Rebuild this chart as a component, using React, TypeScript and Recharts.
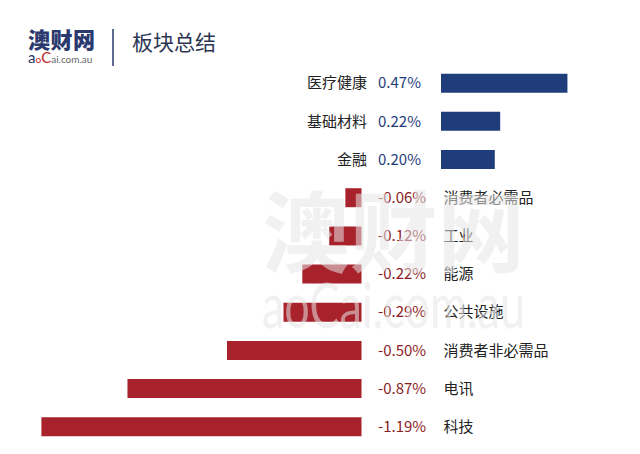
import React from "react";
import { BarChart, Bar, XAxis, YAxis, LabelList } from "recharts";

// 板块涨跌幅（%）
const categories = [
  "医疗健康",
  "基础材料",
  "金融",
  "消费者必需品",
  "工业",
  "能源",
  "公共设施",
  "消费者非必需品",
  "电讯",
  "科技",
];
const changes = [0.47, 0.22, 0.2, -0.06, -0.12, -0.22, -0.29, -0.5, -0.87, -1.19];

const W = 640;
const H = 454;
const PLOT_LEFT = 20;
const PLOT_RIGHT = 620;
const PX_PER_PCT = 269;
// 负值条在中间留白区左侧结束，正值条从右侧开始
const NEG_ZERO = 361.5;
const POS_ZERO = 441;

const NAVY = "#1f3d7b";
const RED = "#a8222b";
const RED_TEXT = "#8c1d25";
const FONT = "'Noto Sans CJK SC', 'Noto Sans', sans-serif";

const negDomain: [number, number] = [
  -(NEG_ZERO - PLOT_LEFT) / PX_PER_PCT,
  (PLOT_RIGHT - NEG_ZERO) / PX_PER_PCT,
];
const posDomain: [number, number] = [
  -(POS_ZERO - PLOT_LEFT) / PX_PER_PCT,
  (PLOT_RIGHT - POS_ZERO) / PX_PER_PCT,
];

const rows = categories.map((name, i) => ({
  name,
  neg: changes[i] < 0 ? changes[i] : null,
  pos: changes[i] >= 0 ? changes[i] : null,
}));

const fmt = (v: number) => `${v.toFixed(2)}%`;
// LabelList 的 index 只计非空条目，所以按数值找回类别名
const nameOf = (v: number) => categories[changes.indexOf(v)];

// 正值：名称 + 数值在条形左侧
function PosLabel(props: any) {
  const { x, y, height, value } = props;
  if (value == null) return null;
  const cy = y + height / 2;
  return (
    <g fontFamily={FONT} fontSize={15}>
      <text x={x - 74} y={cy} dy="0.35em" textAnchor="end" fill="#222">
        {nameOf(value)}
      </text>
      <text x={x - 63} y={cy} dy="0.35em" fill={NAVY}>
        {fmt(value)}
      </text>
    </g>
  );
}

// 负值：数值 + 名称在条形右侧
function NegLabel(props: any) {
  const { x, y, width, height, value } = props;
  if (value == null) return null;
  const right = Math.max(x, x + width);
  const cy = y + height / 2;
  return (
    <g fontFamily={FONT} fontSize={15}>
      <text x={right + 16.5} y={cy} dy="0.35em" fill={RED_TEXT}>
        {fmt(value)}
      </text>
      <text x={right + 82} y={cy} dy="0.35em" fill="#222">
        {nameOf(value)}
      </text>
    </g>
  );
}

function Header() {
  return (
    <svg
      width={W}
      height={H}
      style={{ position: "absolute", left: 0, top: 0, pointerEvents: "none" }}
    >
      {/* logo */}
      <text x={28} y={48} fontFamily={FONT} fontWeight={900} fontSize={22} fill="#2b3a6e" textLength={67}>
        澳财网
      </text>
      <text x={28} y={63} fontFamily="Lato, 'Noto Sans', sans-serif" fill="#666" fontSize={10}>
        <tspan fontSize={15} fill="#2b3a6e">a</tspan>
        <tspan fill="#c0282f">o</tspan>
        <tspan fontSize={15} fill="#c0282f">C</tspan>
        <tspan>ai.com.au</tspan>
      </text>
      <line x1={113} y1={29} x2={113} y2={66} stroke="#2b3a6e" strokeWidth={1.5} />
      <text x={132} y={50} fontFamily={FONT} fontSize={21} fill="#2c3552">
        板块总结
      </text>

      {/* 水印 */}
      <g opacity={0.55} fill="#e6e6e6">
        <text
          x={262}
          y={265}
          fontFamily={FONT}
          fontWeight={700}
          fontSize={88}
          textLength={263}
          lengthAdjust="spacingAndGlyphs"
        >
          澳财网
        </text>
        <text
          x={262}
          y={328}
          fontFamily="Lato, 'Noto Sans', sans-serif"
          fontWeight={400}
          fontSize={62}
          textLength={263}
          lengthAdjust="spacingAndGlyphs"
        >
          aoCai.com.au
        </text>
      </g>
    </svg>
  );
}

export default function App() {
  return (
    <div style={{ position: "absolute", left: 0, top: 0, width: W, height: H, background: "#fff" }}>
      <BarChart
        width={W}
        height={H}
        data={rows}
        layout="vertical"
        barSize={19}
        barGap={-19}
        margin={{ top: 63.7, right: W - PLOT_RIGHT, bottom: 8.6, left: PLOT_LEFT }}
      >
        <YAxis type="category" dataKey="name" hide />
        <XAxis xAxisId="neg" type="number" domain={negDomain} allowDataOverflow hide />
        <XAxis xAxisId="pos" type="number" domain={posDomain} allowDataOverflow hide />
        <Bar dataKey="neg" xAxisId="neg" fill={RED} isAnimationActive={false}>
          <LabelList dataKey="neg" content={NegLabel} />
        </Bar>
        <Bar dataKey="pos" xAxisId="pos" fill={NAVY} isAnimationActive={false}>
          <LabelList dataKey="pos" content={PosLabel} />
        </Bar>
      </BarChart>
      <Header />
    </div>
  );
}
